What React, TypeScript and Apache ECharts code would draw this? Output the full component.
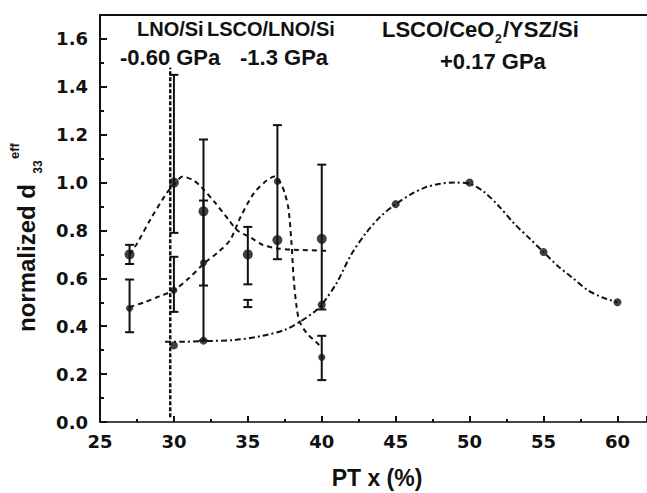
import React, { useEffect, useRef } from "react";
import * as echarts from "echarts";

// ---- data ----
const xMin = 25;
const xMax = 62;
const xStep = 5;
const yMin = 0;
const yMax = 1.7;
const yStep = 0.2;

// dashed guide curves
const curveLNO = [
  [27, 0.70], [27.5, 0.745], [28.4, 0.845], [29.5, 0.955], [30, 0.99], [30.6, 1.025],
  [31.3, 1.01], [31.8, 0.985], [32.8, 0.915], [33.7, 0.845], [34.3, 0.8], [35.2, 0.77],
  [36, 0.74], [37, 0.725], [38, 0.72], [40.3, 0.715],
];
const curveLSCO = [
  [27, 0.48], [28, 0.5], [29, 0.525], [30, 0.55], [31, 0.6], [32, 0.66], [33, 0.71],
  [33.8, 0.76], [34.5, 0.855], [35.4, 0.955], [36.3, 1.01], [36.8, 1.025], [37.2, 1.0],
  [37.5, 0.955], [37.75, 0.89], [37.95, 0.75], [38.1, 0.6], [38.3, 0.48], [38.5, 0.42],
  [39, 0.37], [39.6, 0.335], [40, 0.31],
];
const curveCeO = [
  [29.4, 0.335], [30.5, 0.335], [32, 0.338], [34, 0.342], [36, 0.36], [37.5, 0.385],
  [38.5, 0.418], [39.5, 0.46], [40, 0.49], [41, 0.58], [42, 0.7], [43, 0.79], [44, 0.86],
  [45, 0.91], [46, 0.95], [47, 0.98], [48, 0.995], [49, 1.0], [50, 0.995], [51, 0.96],
  [52, 0.9], [53, 0.83], [54, 0.77], [55, 0.71], [56, 0.65], [57, 0.6], [58, 0.55],
  [59, 0.52], [60, 0.5],
];
const verticalGuide = [[29.75, 0.02], [29.75, 1.48]];

// measured points
const pointsLNO = [[27, 0.70], [30, 1.0], [32, 0.88], [35, 0.70], [37, 0.76], [40, 0.765]];
const pointsLSCO = [[27, 0.475], [30, 0.55], [32, 0.665], [37, 1.005], [40, 0.27]];
const pointsCeO = [[30, 0.32], [32, 0.34], [40, 0.49], [45, 0.91], [50, 1.0], [55, 0.71], [60, 0.5]];

// error bars: [x, low, high]
const errorsLNO = [
  [27, 0.66, 0.74], [30, 0.79, 1.45], [32, 0.57, 1.18], [35, 0.575, 0.815],
  [37, 0.68, 1.24], [40, 0.47, 1.075],
];
const errorsLSCO = [
  [27, 0.375, 0.595], [30, 0.46, 0.69], [32, 0.34, 0.925], [35, 0.48, 0.51], [40, 0.175, 0.36],
];

// texts
const xTitle = "PT x (%)";
const yTitleMain = "normalized d";
const yTitleSub = "33";
const yTitleSup = "eff";
const labelsLine1 = ["LNO/Si", "LSCO/LNO/Si", "LSCO/CeO", "2", "/YSZ/Si"];
const labelsLine2 = ["-0.60 GPa", "-1.3 GPa", "+0.17 GPa"];

const INK = "#111";
const AX_FONT = "DejaVu Sans";
const TXT_FONT = "Liberation Sans";

function errorBarRender(params: any, api: any) {
  const x = api.value(0);
  const lo = api.coord([x, api.value(1)]);
  const hi = api.coord([x, api.value(2)]);
  const w = 4.5;
  const style = { stroke: INK, lineWidth: 2 };
  return {
    type: "group",
    children: [
      { type: "line", shape: { x1: lo[0], y1: lo[1], x2: hi[0], y2: hi[1] }, style },
      { type: "line", shape: { x1: lo[0] - w, y1: lo[1], x2: lo[0] + w, y2: lo[1] }, style },
      { type: "line", shape: { x1: hi[0] - w, y1: hi[1], x2: hi[0] + w, y2: hi[1] }, style },
    ],
  };
}

function txt(text: string, x: number, y: number, size: number, extra: any = {}) {
  return {
    type: "text",
    x,
    y,
    silent: true,
    ...extra,
    style: {
      text,
      fontSize: size,
      fontWeight: "bold",
      fontFamily: TXT_FONT,
      fill: INK,
      align: extra.align || "left",
      textAlign: extra.align || "left",
      verticalAlign: "middle",
      textVerticalAlign: "middle",
    },
  };
}

export default function App() {
  const ref = useRef<HTMLDivElement>(null);
  useEffect(() => {
    if (!ref.current) return;
    const chart = echarts.init(ref.current, undefined, { renderer: "svg" });
    const lineBase = {
      type: "line",
      showSymbol: false,
      symbol: "none",
      smooth: 0.3,
      silent: true,
      z: 3,
    };
    const option: any = {
      animation: false,
      backgroundColor: "#fff",
      grid: { left: 100, right: 0, top: 15, bottom: 71, containLabel: false },
      xAxis: [
        {
          type: "value",
          min: xMin,
          max: xMax,
          interval: xStep,
          axisLine: { lineStyle: { color: "#444", width: 2 } },
          axisTick: { inside: true, length: 6, lineStyle: { color: INK, width: 2 } },
          minorTick: { show: true, splitNumber: 2, length: 3, lineStyle: { color: INK, width: 2 } },
          splitLine: { show: false },
          axisLabel: {
            margin: 10,
            color: INK,
            fontFamily: AX_FONT,
            fontWeight: "bold",
            fontSize: 18,
            showMaxLabel: false,
            formatter: (v: number) => (v % xStep === 0 && v <= 60 ? String(v) : ""),
          },
        },
        {
          type: "value",
          position: "top",
          min: xMin,
          max: xMax,
          axisLine: { show: true, lineStyle: { color: INK, width: 2 } },
          axisTick: { show: false },
          axisLabel: { show: false },
          splitLine: { show: false },
        },
      ],
      yAxis: {
        type: "value",
        min: yMin,
        max: yMax,
        interval: yStep,
        axisLine: { show: true, lineStyle: { color: INK, width: 2 } },
        axisTick: { inside: true, length: 7, lineStyle: { color: INK, width: 2 } },
        minorTick: { show: true, splitNumber: 2, length: 4, lineStyle: { color: INK, width: 2 } },
        splitLine: { show: false },
        axisLabel: {
          margin: 12,
          color: INK,
          fontFamily: AX_FONT,
          fontWeight: "bold",
          fontSize: 18,
          showMaxLabel: false,
          formatter: (v: number) =>
            Math.abs(v / yStep - Math.round(v / yStep)) < 1e-6 ? v.toFixed(1) : "",
        },
      },
      series: [
        { ...lineBase, name: "LNO/Si", data: curveLNO, lineStyle: { color: INK, width: 2, type: [5, 4] } },
        { ...lineBase, name: "LSCO/LNO/Si", data: curveLSCO, lineStyle: { color: INK, width: 2, type: [5, 4] } },
        { ...lineBase, name: "LSCO/CeO2/YSZ/Si", data: curveCeO, lineStyle: { color: INK, width: 2, type: [6, 3, 2, 3] } },
        { ...lineBase, smooth: false, name: "guide", data: verticalGuide, lineStyle: { color: INK, width: 2.5, type: [4, 2] } },
        {
          type: "custom",
          name: "errLNO",
          renderItem: errorBarRender,
          data: errorsLNO,
          encode: { x: 0, y: [1, 2] },
          silent: true,
          z: 4,
        },
        {
          type: "custom",
          name: "errLSCO",
          renderItem: errorBarRender,
          data: errorsLSCO,
          encode: { x: 0, y: [1, 2] },
          silent: true,
          z: 4,
        },
        { type: "scatter", data: pointsLNO, symbolSize: 10, itemStyle: { color: INK }, z: 5, silent: true },
        { type: "scatter", data: pointsLSCO, symbolSize: 7, itemStyle: { color: INK }, z: 5, silent: true },
        { type: "scatter", data: pointsCeO, symbolSize: 8, itemStyle: { color: INK }, z: 5, silent: true },
      ],
      graphic: [
        // top labels, line 1
        txt(labelsLine1[0], 137, 29, 20),
        txt(labelsLine1[1], 207, 29, 20),
        txt(labelsLine1[2], 382, 29, 22),
        txt(labelsLine1[3], 495, 39, 12),
        txt(labelsLine1[4], 503, 29, 22),
        // line 2
        txt(labelsLine2[0], 120, 57, 22),
        txt(labelsLine2[1], 240, 57, 22),
        txt(labelsLine2[2], 440, 61, 22),
        // axis titles
        txt(xTitle, 377, 478, 23, { align: "center" }),
        txt(yTitleMain, 26, 332, 24, { rotation: Math.PI / 2 }),
        txt(yTitleSub, 38, 167, 12, { rotation: Math.PI / 2, align: "center" }),
        txt(yTitleSup, 14, 151, 13, { rotation: Math.PI / 2, align: "center" }),
      ],
    };
    chart.setOption(option);
    return () => chart.dispose();
  }, []);
  return (
    <div
      ref={ref}
      style={{ position: "absolute", left: 0, top: 0, width: 647, height: 493, background: "#fff" }}
    />
  );
}
